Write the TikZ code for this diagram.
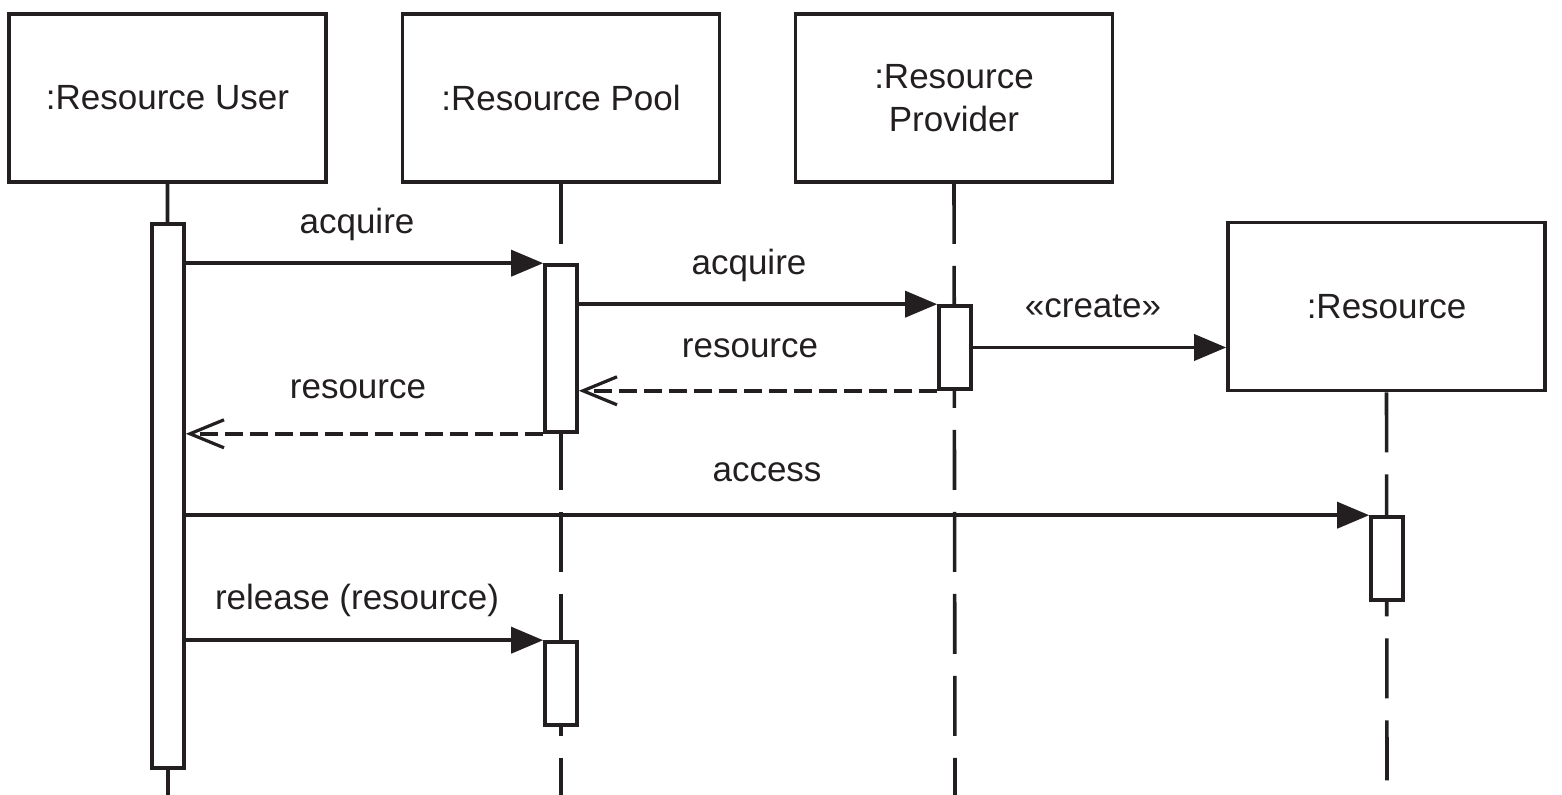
\documentclass[tikz,border=0pt]{standalone}
\usepackage{fontspec}
\setmainfont{Liberation Sans}
\usetikzlibrary{arrows.meta,calc}
\definecolor{ink}{RGB}{35,31,32}
\tikzset{
  head/.style={draw=ink, line width=1.8pt, fill=white, minimum width=158.5pt, minimum height=84pt, inner sep=0pt, align=center, text=ink, font=\fontsize{17.5}{21.5}\selectfont},
  act/.style={draw=ink, line width=1.8pt, fill=white, minimum width=16pt, inner sep=0pt},
  life/.style={draw=ink, line width=1.8pt},
  dlife/.style={draw=ink, line width=1.8pt, dash pattern=on 30pt off 11pt},
  msg/.style={draw=ink, line width=1.8pt, -{Triangle[length=16pt,width=13pt]}},
  ret/.style={draw=ink, line width=1.8pt, dash pattern=on 9pt off 3.5pt, -{Straight Barb[length=17pt,width=14pt,line width=1.6pt]}},
  lbl/.style={text=ink, font=\fontsize{17.5}{21}\selectfont, inner sep=0pt}
}
\begin{document}
\begin{tikzpicture}[x=0.5pt,y=-0.5pt]
\useasboundingbox (0,0) rectangle (1562,795);
% heads
\node[head] (ub) at (167.5,98) {:Resource User};
\node[head] (pb) at (561,98) {:Resource Pool};
\node[head] (vb) at (954,98) {:Resource\\Provider};
\node[head] (rb) at (1386.5,306.5) {:Resource};
% bottom ends of lifelines
\coordinate (ue) at (168,795);
\coordinate (pe) at (561,795);
\coordinate (ve) at (955,795);
\coordinate (re) at (1387,795);
% lifelines
\draw[life] (ub.south) -- (ue);
\draw[dlife] (pb.south) -- (pe);
\draw[dlife] (vb.south) -- (ve);
\draw[dlife] (rb.south) -- (re);
% activations
\node[act, minimum height=272pt] (ua) at (168,496) {};
\node[act, minimum height=83.5pt] (pa1) at (561,348.5) {};
\node[act, minimum height=41.5pt] (pa2) at (561,683.5) {};
\node[act, minimum height=41.5pt] (va) at (955,347.5) {};
\node[act, minimum height=41.5pt] (ra) at (1387,558.5) {};
% messages
\draw[msg] (pa1.north west -| ua.east) -- (pa1.north west);
\draw[msg] (va.north west -| pa1.east) -- (va.north west);
\draw[msg] (va.east) -- (va.east -| rb.west);
\draw[ret] (va.south west) -- (va.south west -| pa1.east);
\draw[ret] (pa1.south west) -- (pa1.south west -| ua.east);
\draw[msg] (ra.north west -| ua.east) -- (ra.north west);
\draw[msg] (pa2.north west -| ua.east) -- (pa2.north west);
% labels
\node[lbl] (l1) at (357,224) {acquire};
\node[lbl] (l2) at (749,265) {acquire};
\node[lbl] (l3) at (1093,306) {«create»};
\node[lbl] (l4) at (750,348) {resource};
\node[lbl] (l5) at (358,389) {resource};
\node[lbl] (l6) at (767,472) {access};
\node[lbl] (l7) at (357,600) {release (resource)};
\end{tikzpicture}
\end{document}
